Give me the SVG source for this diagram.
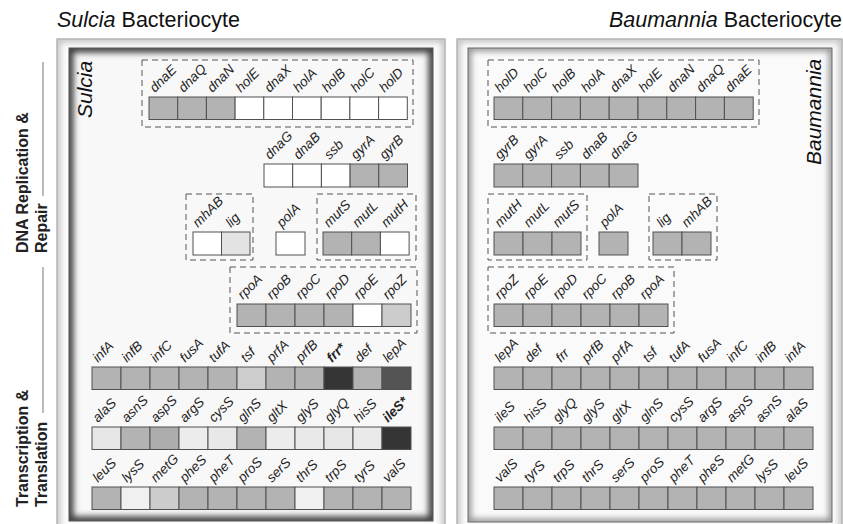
<svg xmlns="http://www.w3.org/2000/svg" width="843" height="524" viewBox="0 0 843 524">
<style>
.t{font-family:"Liberation Sans",Arial,sans-serif;fill:#111}
.ti{font-style:italic}
.lab{font-family:"Liberation Sans",Arial,sans-serif;font-style:italic;font-size:13.5px;fill:#222}
.bl{font-weight:bold}
.sec{font-family:"Liberation Sans",Arial,sans-serif;font-weight:bold;font-size:16px;fill:#222}
rect.b{stroke:#505050;stroke-width:1}
.g{fill:#b3b3b3}
.w{fill:#ffffff}
.dash{fill:none;stroke:#555;stroke-width:1;stroke-dasharray:6 4}
.br{stroke:#777;stroke-width:1;fill:none}
</style>
<defs>
<filter id="blur" x="-10%" y="-10%" width="120%" height="120%"><feGaussianBlur stdDeviation="3"/></filter>
<clipPath id="cL"><rect x="69" y="48" width="364" height="473"/></clipPath>
<clipPath id="cR"><rect x="468" y="48" width="364" height="474"/></clipPath>
<clipPath id="oL"><rect x="57" y="39" width="388" height="500"/></clipPath>
<clipPath id="oR"><rect x="457" y="39" width="385" height="500"/></clipPath>
</defs>
<rect width="843" height="524" fill="#ffffff"/>
<!-- titles -->
<text class="t" x="57" y="27" font-size="21.5"><tspan class="ti">Sulcia</tspan> Bacteriocyte</text>
<text class="t" x="842" y="27" font-size="21.5" text-anchor="end"><tspan class="ti">Baumannia</tspan> Bacteriocyte</text>
<!-- section labels -->
<g id="sec-dna">
<text class="sec" transform="translate(28,253) rotate(-90)">DNA Replication &amp;</text>
<text class="sec" transform="translate(47,253) rotate(-90)">Repair</text>
</g>
<g id="sec-tt">
<text class="sec" transform="translate(28,507) rotate(-90)">Transcription &amp;</text>
<text class="sec" transform="translate(47,507) rotate(-90)">Translation</text>
</g>
<g id="connectors">
<line class="br" x1="43" y1="62" x2="43" y2="196"/>
<line class="br" x1="43" y1="267" x2="43" y2="413"/>
</g>
<!-- panels -->
<g id="panel-sulcia">
<rect x="57" y="39" width="388" height="500" fill="#fbfbfb" stroke="#8a8a8a"/>
<rect x="57" y="39" width="388" height="500" fill="none" stroke="#bbb" stroke-width="6" filter="url(#blur)" clip-path="url(#oL)"/>
<rect x="69" y="48" width="364" height="473" fill="#f8f8f8"/>
<rect x="69" y="48" width="364" height="473" fill="none" stroke="#3a3a3a" stroke-width="9" filter="url(#blur)" clip-path="url(#cL)"/>
<rect x="69" y="48" width="364" height="473" fill="none" stroke="#555"/>
<text class="t ti" font-size="21" transform="translate(92,118) rotate(-90)">Sulcia</text>
</g>
<g id="panel-baumannia">
<rect x="457" y="39" width="385" height="500" fill="#fbfbfb" stroke="#8a8a8a"/>
<rect x="457" y="39" width="385" height="500" fill="none" stroke="#bbb" stroke-width="6" filter="url(#blur)" clip-path="url(#oR)"/>
<rect x="468" y="48" width="364" height="474" fill="#fafafa"/>
<rect x="468" y="48" width="364" height="474" fill="none" stroke="#888" stroke-width="6" filter="url(#blur)" clip-path="url(#cR)"/>
<rect x="468" y="48" width="364" height="474" fill="none" stroke="#666"/>
<text class="t ti" font-size="21" transform="translate(821,165) rotate(-90)">Baumannia</text>
</g>
<!-- dashed clusters -->
<g id="clusters">
<rect class="dash" x="142" y="60" width="271" height="67"/>
<rect class="dash" x="186" y="194" width="67" height="66"/>
<rect class="dash" x="317" y="194" width="99" height="66"/>
<rect class="dash" x="230" y="267" width="187" height="66"/>
<rect class="dash" x="488" y="60" width="271" height="67"/>
<rect class="dash" x="488" y="194" width="99" height="66"/>
<rect class="dash" x="649" y="194" width="68" height="66"/>
<rect class="dash" x="488" y="267" width="186" height="66"/>
</g>
<!-- Sulcia genes -->
<g id="s-row1">
<g id="s-dnaE"><rect class="b g" x="149" y="97" width="28.7" height="22.5"/><text class="lab" transform="translate(155,93) rotate(-45)">dnaE</text></g>
<g id="s-dnaQ"><rect class="b g" x="177.7" y="97" width="28.7" height="22.5"/><text class="lab" transform="translate(183.7,93) rotate(-45)">dnaQ</text></g>
<g id="s-dnaN"><rect class="b g" x="206.4" y="97" width="28.7" height="22.5"/><text class="lab" transform="translate(212.4,93) rotate(-45)">dnaN</text></g>
<g id="s-holE"><rect class="b w" x="235.1" y="97" width="28.7" height="22.5"/><text class="lab" transform="translate(241.1,93) rotate(-45)">holE</text></g>
<g id="s-dnaX"><rect class="b w" x="263.8" y="97" width="28.7" height="22.5"/><text class="lab" transform="translate(269.8,93) rotate(-45)">dnaX</text></g>
<g id="s-holA"><rect class="b w" x="292.5" y="97" width="28.7" height="22.5"/><text class="lab" transform="translate(298.5,93) rotate(-45)">holA</text></g>
<g id="s-holB"><rect class="b w" x="321.2" y="97" width="28.7" height="22.5"/><text class="lab" transform="translate(327.2,93) rotate(-45)">holB</text></g>
<g id="s-holC"><rect class="b w" x="349.9" y="97" width="28.7" height="22.5"/><text class="lab" transform="translate(355.9,93) rotate(-45)">holC</text></g>
<g id="s-holD"><rect class="b w" x="378.6" y="97" width="28.7" height="22.5"/><text class="lab" transform="translate(384.6,93) rotate(-45)">holD</text></g>
</g>
<g id="s-row2">
<g id="s-dnaG"><rect class="b w" x="264" y="164" width="28.7" height="23"/><text class="lab" transform="translate(270,160) rotate(-45)">dnaG</text></g>
<g id="s-dnaB"><rect class="b w" x="292.7" y="164" width="28.7" height="23"/><text class="lab" transform="translate(298.7,160) rotate(-45)">dnaB</text></g>
<g id="s-ssb"><rect class="b w" x="321.4" y="164" width="28.7" height="23"/><text class="lab" transform="translate(329.4,160) rotate(-45)">ssb</text></g>
<g id="s-gyrA"><rect class="b g" x="350.1" y="164" width="28.7" height="23"/><text class="lab" transform="translate(356.1,160) rotate(-45)">gyrA</text></g>
<g id="s-gyrB"><rect class="b g" x="378.8" y="164" width="28.7" height="23"/><text class="lab" transform="translate(384.8,160) rotate(-45)">gyrB</text></g>
</g>
<g id="s-row3">
<g id="s-mhAB"><rect class="b w" x="193" y="232" width="28.5" height="23"/><text class="lab" transform="translate(198,228) rotate(-45)">mhAB</text></g>
<g id="s-lig"><rect class="b" fill="#e3e3e3" x="221.5" y="232" width="28.5" height="23"/><text class="lab" transform="translate(231,228) rotate(-45)">lig</text></g>
<g id="s-polA"><rect class="b w" x="276" y="232" width="29" height="23"/><text class="lab" transform="translate(282,228) rotate(-45)">polA</text></g>
<g id="s-mutS"><rect class="b g" x="323" y="232" width="28.7" height="23"/><text class="lab" transform="translate(329,228) rotate(-45)">mutS</text></g>
<g id="s-mutL"><rect class="b g" x="351.7" y="232" width="28.7" height="23"/><text class="lab" transform="translate(357.7,228) rotate(-45)">mutL</text></g>
<g id="s-mutH"><rect class="b w" x="380.4" y="232" width="28.7" height="23"/><text class="lab" transform="translate(386.4,228) rotate(-45)">mutH</text></g>
</g>
<g id="s-row4">
<g id="s-rpoA"><rect class="b g" x="237" y="304" width="29" height="22.5"/><text class="lab" transform="translate(243,300) rotate(-45)">rpoA</text></g>
<g id="s-rpoB"><rect class="b g" x="266" y="304" width="29" height="22.5"/><text class="lab" transform="translate(272,300) rotate(-45)">rpoB</text></g>
<g id="s-rpoC"><rect class="b g" x="295" y="304" width="29" height="22.5"/><text class="lab" transform="translate(301,300) rotate(-45)">rpoC</text></g>
<g id="s-rpoD"><rect class="b g" x="324" y="304" width="29" height="22.5"/><text class="lab" transform="translate(330,300) rotate(-45)">rpoD</text></g>
<g id="s-rpoE"><rect class="b w" x="353" y="304" width="29" height="22.5"/><text class="lab" transform="translate(359,300) rotate(-45)">rpoE</text></g>
<g id="s-rpoZ"><rect class="b" fill="#cccccc" x="382" y="304" width="29" height="22.5"/><text class="lab" transform="translate(388,300) rotate(-45)">rpoZ</text></g>
</g>
<g id="s-row5">
<g id="s-infA"><rect class="b g" x="92" y="367" width="29" height="22.5"/><text class="lab" transform="translate(98,363) rotate(-45)">infA</text></g>
<g id="s-infB"><rect class="b g" x="121" y="367" width="29" height="22.5"/><text class="lab" transform="translate(127,363) rotate(-45)">infB</text></g>
<g id="s-infC"><rect class="b g" x="150" y="367" width="29" height="22.5"/><text class="lab" transform="translate(156,363) rotate(-45)">infC</text></g>
<g id="s-fusA"><rect class="b g" x="179" y="367" width="29" height="22.5"/><text class="lab" transform="translate(185,363) rotate(-45)">fusA</text></g>
<g id="s-tufA"><rect class="b g" x="208" y="367" width="29" height="22.5"/><text class="lab" transform="translate(214,363) rotate(-45)">tufA</text></g>
<g id="s-tsf"><rect class="b" fill="#cdcdcd" x="237" y="367" width="29" height="22.5"/><text class="lab" transform="translate(246,363) rotate(-45)">tsf</text></g>
<g id="s-prfA"><rect class="b g" x="266" y="367" width="29" height="22.5"/><text class="lab" transform="translate(272,363) rotate(-45)">prfA</text></g>
<g id="s-prfB"><rect class="b g" x="295" y="367" width="29" height="22.5"/><text class="lab" transform="translate(301,363) rotate(-45)">prfB</text></g>
<g id="s-frr"><rect class="b" fill="#353535" x="324" y="367" width="29" height="22.5"/><text class="lab bl" transform="translate(332,363) rotate(-45)">frr*</text></g>
<g id="s-def"><rect class="b g" x="353" y="367" width="29" height="22.5"/><text class="lab" transform="translate(360,363) rotate(-45)">def</text></g>
<g id="s-lepA"><rect class="b" fill="#545454" x="382" y="367" width="29" height="22.5"/><text class="lab" transform="translate(388,363) rotate(-45)">lepA</text></g>
</g>
<g id="s-row6">
<g id="s-alaS"><rect class="b" fill="#e6e6e6" x="92" y="427" width="29" height="22.5"/><text class="lab" transform="translate(98,423) rotate(-45)">alaS</text></g>
<g id="s-asnS"><rect class="b g" x="121" y="427" width="29" height="22.5"/><text class="lab" transform="translate(127,423) rotate(-45)">asnS</text></g>
<g id="s-aspS"><rect class="b" fill="#adadad" x="150" y="427" width="29" height="22.5"/><text class="lab" transform="translate(156,423) rotate(-45)">aspS</text></g>
<g id="s-argS"><rect class="b" fill="#ececec" x="179" y="427" width="29" height="22.5"/><text class="lab" transform="translate(185,423) rotate(-45)">argS</text></g>
<g id="s-cysS"><rect class="b" fill="#e8e8e8" x="208" y="427" width="29" height="22.5"/><text class="lab" transform="translate(214,423) rotate(-45)">cysS</text></g>
<g id="s-glnS"><rect class="b g" x="237" y="427" width="29" height="22.5"/><text class="lab" transform="translate(243,423) rotate(-45)">glnS</text></g>
<g id="s-gltX"><rect class="b" fill="#ececec" x="266" y="427" width="29" height="22.5"/><text class="lab" transform="translate(272,423) rotate(-45)">gltX</text></g>
<g id="s-glyS"><rect class="b" fill="#e9e9e9" x="295" y="427" width="29" height="22.5"/><text class="lab" transform="translate(301,423) rotate(-45)">glyS</text></g>
<g id="s-glyQ"><rect class="b" fill="#e6e6e6" x="324" y="427" width="29" height="22.5"/><text class="lab" transform="translate(330,423) rotate(-45)">glyQ</text></g>
<g id="s-hisS"><rect class="b" fill="#eaeaea" x="353" y="427" width="29" height="22.5"/><text class="lab" transform="translate(359,423) rotate(-45)">hisS</text></g>
<g id="s-ileS"><rect class="b" fill="#353535" x="382" y="427" width="29" height="22.5"/><text class="lab bl" transform="translate(388,423) rotate(-45)">ileS*</text></g>
</g>
<g id="s-row7">
<g id="s-leuS"><rect class="b g" x="92" y="487" width="29" height="22.5"/><text class="lab" transform="translate(98,483) rotate(-45)">leuS</text></g>
<g id="s-lysS"><rect class="b" fill="#f0f0f0" x="121" y="487" width="29" height="22.5"/><text class="lab" transform="translate(127,483) rotate(-45)">lysS</text></g>
<g id="s-metG"><rect class="b" fill="#cccccc" x="150" y="487" width="29" height="22.5"/><text class="lab" transform="translate(156,483) rotate(-45)">metG</text></g>
<g id="s-pheS"><rect class="b g" x="179" y="487" width="29" height="22.5"/><text class="lab" transform="translate(185,483) rotate(-45)">pheS</text></g>
<g id="s-pheT"><rect class="b g" x="208" y="487" width="29" height="22.5"/><text class="lab" transform="translate(214,483) rotate(-45)">pheT</text></g>
<g id="s-proS"><rect class="b g" x="237" y="487" width="29" height="22.5"/><text class="lab" transform="translate(243,483) rotate(-45)">proS</text></g>
<g id="s-serS"><rect class="b g" x="266" y="487" width="29" height="22.5"/><text class="lab" transform="translate(272,483) rotate(-45)">serS</text></g>
<g id="s-thrS"><rect class="b" fill="#f0f0f0" x="295" y="487" width="29" height="22.5"/><text class="lab" transform="translate(301,483) rotate(-45)">thrS</text></g>
<g id="s-trpS"><rect class="b g" x="324" y="487" width="29" height="22.5"/><text class="lab" transform="translate(330,483) rotate(-45)">trpS</text></g>
<g id="s-tyrS"><rect class="b g" x="353" y="487" width="29" height="22.5"/><text class="lab" transform="translate(359,483) rotate(-45)">tyrS</text></g>
<g id="s-valS"><rect class="b g" x="382" y="487" width="29" height="22.5"/><text class="lab" transform="translate(388,483) rotate(-45)">valS</text></g>
</g>
<!-- Baumannia genes -->
<g id="b-row1">
<g id="b-holD"><rect class="b g" x="494" y="97" width="28.8" height="22.5"/><text class="lab" transform="translate(500,93) rotate(-45)">holD</text></g>
<g id="b-holC"><rect class="b g" x="522.8" y="97" width="28.8" height="22.5"/><text class="lab" transform="translate(528.8,93) rotate(-45)">holC</text></g>
<g id="b-holB"><rect class="b g" x="551.6" y="97" width="28.8" height="22.5"/><text class="lab" transform="translate(557.6,93) rotate(-45)">holB</text></g>
<g id="b-holA"><rect class="b g" x="580.4" y="97" width="28.8" height="22.5"/><text class="lab" transform="translate(586.4,93) rotate(-45)">holA</text></g>
<g id="b-dnaX"><rect class="b g" x="609.2" y="97" width="28.8" height="22.5"/><text class="lab" transform="translate(615.2,93) rotate(-45)">dnaX</text></g>
<g id="b-holE"><rect class="b g" x="638" y="97" width="28.8" height="22.5"/><text class="lab" transform="translate(644,93) rotate(-45)">holE</text></g>
<g id="b-dnaN"><rect class="b g" x="666.8" y="97" width="28.8" height="22.5"/><text class="lab" transform="translate(672.8,93) rotate(-45)">dnaN</text></g>
<g id="b-dnaQ"><rect class="b g" x="695.6" y="97" width="28.8" height="22.5"/><text class="lab" transform="translate(701.6,93) rotate(-45)">dnaQ</text></g>
<g id="b-dnaE"><rect class="b g" x="724.4" y="97" width="28.8" height="22.5"/><text class="lab" transform="translate(730.4,93) rotate(-45)">dnaE</text></g>
</g>
<g id="b-row2">
<g id="b-gyrB"><rect class="b g" x="494" y="164" width="28.8" height="23"/><text class="lab" transform="translate(500,160) rotate(-45)">gyrB</text></g>
<g id="b-gyrA"><rect class="b g" x="522.8" y="164" width="28.8" height="23"/><text class="lab" transform="translate(528.8,160) rotate(-45)">gyrA</text></g>
<g id="b-ssb"><rect class="b g" x="551.6" y="164" width="28.8" height="23"/><text class="lab" transform="translate(559.6,160) rotate(-45)">ssb</text></g>
<g id="b-dnaB"><rect class="b g" x="580.4" y="164" width="28.8" height="23"/><text class="lab" transform="translate(586.4,160) rotate(-45)">dnaB</text></g>
<g id="b-dnaG"><rect class="b g" x="609.2" y="164" width="28.8" height="23"/><text class="lab" transform="translate(615.2,160) rotate(-45)">dnaG</text></g>
</g>
<g id="b-row3">
<g id="b-mutH"><rect class="b g" x="494" y="232" width="29" height="23"/><text class="lab" transform="translate(500,228) rotate(-45)">mutH</text></g>
<g id="b-mutL"><rect class="b g" x="523" y="232" width="29" height="23"/><text class="lab" transform="translate(529,228) rotate(-45)">mutL</text></g>
<g id="b-mutS"><rect class="b g" x="552" y="232" width="29" height="23"/><text class="lab" transform="translate(558,228) rotate(-45)">mutS</text></g>
<g id="b-polA"><rect class="b g" x="599" y="232" width="29" height="23"/><text class="lab" transform="translate(605,228) rotate(-45)">polA</text></g>
<g id="b-lig"><rect class="b g" x="653" y="232" width="29" height="23"/><text class="lab" transform="translate(662,228) rotate(-45)">lig</text></g>
<g id="b-mhAB"><rect class="b g" x="682" y="232" width="29" height="23"/><text class="lab" transform="translate(687,228) rotate(-45)">mhAB</text></g>
</g>
<g id="b-row4">
<g id="b-rpoZ"><rect class="b g" x="494" y="304" width="29" height="22.5"/><text class="lab" transform="translate(500,300) rotate(-45)">rpoZ</text></g>
<g id="b-rpoE"><rect class="b g" x="523" y="304" width="29" height="22.5"/><text class="lab" transform="translate(529,300) rotate(-45)">rpoE</text></g>
<g id="b-rpoD"><rect class="b g" x="552" y="304" width="29" height="22.5"/><text class="lab" transform="translate(558,300) rotate(-45)">rpoD</text></g>
<g id="b-rpoC"><rect class="b g" x="581" y="304" width="29" height="22.5"/><text class="lab" transform="translate(587,300) rotate(-45)">rpoC</text></g>
<g id="b-rpoB"><rect class="b g" x="610" y="304" width="29" height="22.5"/><text class="lab" transform="translate(616,300) rotate(-45)">rpoB</text></g>
<g id="b-rpoA"><rect class="b g" x="639" y="304" width="29" height="22.5"/><text class="lab" transform="translate(645,300) rotate(-45)">rpoA</text></g>
</g>
<g id="b-row5">
<g id="b-lepA"><rect class="b g" x="494" y="367" width="29" height="22.5"/><text class="lab" transform="translate(500,363) rotate(-45)">lepA</text></g>
<g id="b-def"><rect class="b g" x="523" y="367" width="29" height="22.5"/><text class="lab" transform="translate(530,363) rotate(-45)">def</text></g>
<g id="b-frr"><rect class="b g" x="552" y="367" width="29" height="22.5"/><text class="lab" transform="translate(561,363) rotate(-45)">frr</text></g>
<g id="b-prfB"><rect class="b g" x="581" y="367" width="29" height="22.5"/><text class="lab" transform="translate(587,363) rotate(-45)">prfB</text></g>
<g id="b-prfA"><rect class="b g" x="610" y="367" width="29" height="22.5"/><text class="lab" transform="translate(616,363) rotate(-45)">prfA</text></g>
<g id="b-tsf"><rect class="b g" x="639" y="367" width="29" height="22.5"/><text class="lab" transform="translate(648,363) rotate(-45)">tsf</text></g>
<g id="b-tufA"><rect class="b g" x="668" y="367" width="29" height="22.5"/><text class="lab" transform="translate(674,363) rotate(-45)">tufA</text></g>
<g id="b-fusA"><rect class="b g" x="697" y="367" width="29" height="22.5"/><text class="lab" transform="translate(703,363) rotate(-45)">fusA</text></g>
<g id="b-infC"><rect class="b g" x="726" y="367" width="29" height="22.5"/><text class="lab" transform="translate(732,363) rotate(-45)">infC</text></g>
<g id="b-infB"><rect class="b g" x="755" y="367" width="29" height="22.5"/><text class="lab" transform="translate(761,363) rotate(-45)">infB</text></g>
<g id="b-infA"><rect class="b g" x="784" y="367" width="29" height="22.5"/><text class="lab" transform="translate(790,363) rotate(-45)">infA</text></g>
</g>
<g id="b-row6">
<g id="b-ileS"><rect class="b g" x="494" y="427" width="29" height="22.5"/><text class="lab" transform="translate(500,423) rotate(-45)">ileS</text></g>
<g id="b-hisS"><rect class="b g" x="523" y="427" width="29" height="22.5"/><text class="lab" transform="translate(529,423) rotate(-45)">hisS</text></g>
<g id="b-glyQ"><rect class="b g" x="552" y="427" width="29" height="22.5"/><text class="lab" transform="translate(558,423) rotate(-45)">glyQ</text></g>
<g id="b-glyS"><rect class="b g" x="581" y="427" width="29" height="22.5"/><text class="lab" transform="translate(587,423) rotate(-45)">glyS</text></g>
<g id="b-gltX"><rect class="b g" x="610" y="427" width="29" height="22.5"/><text class="lab" transform="translate(616,423) rotate(-45)">gltX</text></g>
<g id="b-glnS"><rect class="b g" x="639" y="427" width="29" height="22.5"/><text class="lab" transform="translate(645,423) rotate(-45)">glnS</text></g>
<g id="b-cysS"><rect class="b g" x="668" y="427" width="29" height="22.5"/><text class="lab" transform="translate(674,423) rotate(-45)">cysS</text></g>
<g id="b-argS"><rect class="b g" x="697" y="427" width="29" height="22.5"/><text class="lab" transform="translate(703,423) rotate(-45)">argS</text></g>
<g id="b-aspS"><rect class="b g" x="726" y="427" width="29" height="22.5"/><text class="lab" transform="translate(732,423) rotate(-45)">aspS</text></g>
<g id="b-asnS"><rect class="b g" x="755" y="427" width="29" height="22.5"/><text class="lab" transform="translate(761,423) rotate(-45)">asnS</text></g>
<g id="b-alaS"><rect class="b g" x="784" y="427" width="29" height="22.5"/><text class="lab" transform="translate(790,423) rotate(-45)">alaS</text></g>
</g>
<g id="b-row7">
<g id="b-valS"><rect class="b g" x="494" y="487" width="29" height="22.5"/><text class="lab" transform="translate(500,483) rotate(-45)">valS</text></g>
<g id="b-tyrS"><rect class="b g" x="523" y="487" width="29" height="22.5"/><text class="lab" transform="translate(529,483) rotate(-45)">tyrS</text></g>
<g id="b-trpS"><rect class="b g" x="552" y="487" width="29" height="22.5"/><text class="lab" transform="translate(558,483) rotate(-45)">trpS</text></g>
<g id="b-thrS"><rect class="b g" x="581" y="487" width="29" height="22.5"/><text class="lab" transform="translate(587,483) rotate(-45)">thrS</text></g>
<g id="b-serS"><rect class="b g" x="610" y="487" width="29" height="22.5"/><text class="lab" transform="translate(616,483) rotate(-45)">serS</text></g>
<g id="b-proS"><rect class="b g" x="639" y="487" width="29" height="22.5"/><text class="lab" transform="translate(645,483) rotate(-45)">proS</text></g>
<g id="b-pheT"><rect class="b g" x="668" y="487" width="29" height="22.5"/><text class="lab" transform="translate(674,483) rotate(-45)">pheT</text></g>
<g id="b-pheS"><rect class="b g" x="697" y="487" width="29" height="22.5"/><text class="lab" transform="translate(703,483) rotate(-45)">pheS</text></g>
<g id="b-metG"><rect class="b g" x="726" y="487" width="29" height="22.5"/><text class="lab" transform="translate(732,483) rotate(-45)">metG</text></g>
<g id="b-lysS"><rect class="b g" x="755" y="487" width="29" height="22.5"/><text class="lab" transform="translate(761,483) rotate(-45)">lysS</text></g>
<g id="b-leuS"><rect class="b g" x="784" y="487" width="29" height="22.5"/><text class="lab" transform="translate(790,483) rotate(-45)">leuS</text></g>
</g>
</svg>
